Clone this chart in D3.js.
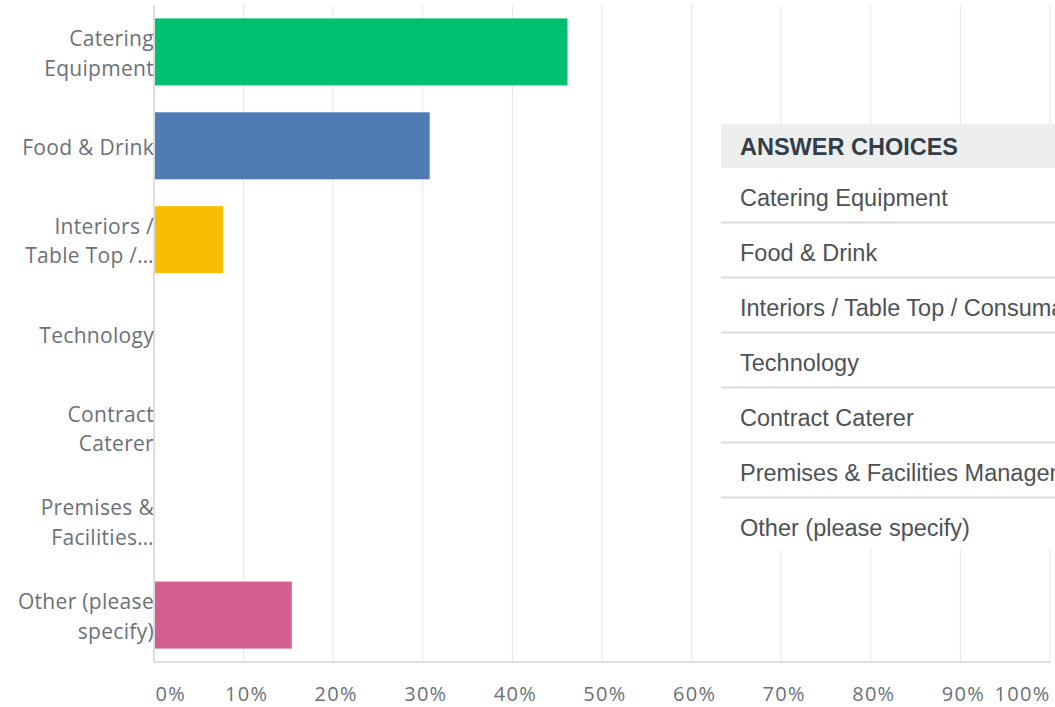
<!DOCTYPE html>
<html>
<head>
<meta charset="utf-8">
<script src="https://cdn.jsdelivr.net/npm/d3@7"></script>
<style>
  html, body { margin: 0; padding: 0; background: #fff; }
  svg { display: block; }
</style>
</head>
<body>
<svg id="chart" width="1055" height="707"></svg>
<script>
// ---- data ----
const categories = ["Catering Equipment", "Food & Drink", "Interiors / Table Top / Consumables",
  "Technology", "Contract Caterer", "Premises & Facilities Management", "Other (please specify)"];
const categoryLabelLines = [
  ["Catering", "Equipment"],
  ["Food & Drink"],
  ["Interiors /", "Table Top /…"],
  ["Technology"],
  ["Contract", "Caterer"],
  ["Premises &", "Facilities…"],
  ["Other (please", "specify)"]
];
const values = [0.4615, 0.3077, 0.0769, 0, 0, 0, 0.1538];
const barColors = ["#00bf6f", "#507cb6", "#f9be00", "#6bc8cd", "#ff8b4f", "#7d5bb1", "#d25f90"];
const tickValues = [0, 0.1, 0.2, 0.3, 0.4, 0.5, 0.6, 0.7, 0.8, 0.9, 1.0];
const tickLabels = ["0%", "10%", "20%", "30%", "40%", "50%", "60%", "70%", "80%", "90%", "100%"];
const tableHeader = "ANSWER CHOICES";
const tableChoices = ["Catering Equipment", "Food & Drink", "Interiors / Table Top / Consumables",
  "Technology", "Contract Caterer", "Premises & Facilities Management", "Other (please specify)"];

(function () {
// ---- layout ----
const svg = d3.select("#chart");
const pLeft = 154, pRight = 1050, pTop = 5, pBottom = 662;
const x = d3.scaleLinear().domain([0, 1]).range([pLeft, pRight]);
const y = d3.scaleBand().domain(categories).range([pTop, pBottom])
  .paddingInner(0.286).paddingOuter(0.143);

const axisFont = "'Open Sans', sans-serif";
const tableFont = "'Liberation Sans', Arial, sans-serif";

// gridlines
svg.append("g").selectAll("line").data(tickValues.slice(1)).join("line")
  .attr("x1", d => x(d)).attr("x2", d => x(d))
  .attr("y1", pTop).attr("y2", pBottom)
  .attr("stroke", "#e6e6e6").attr("stroke-width", 1);

// bars
svg.append("g").selectAll("rect").data(categories).join("rect")
  .attr("x", x(0) + 1)
  .attr("y", d => y(d))
  .attr("width", (d, i) => Math.max(0, x(values[i]) - x(0) - 1))
  .attr("height", y.bandwidth())
  .attr("fill", (d, i) => barColors[i]);

// axis lines
svg.append("line").attr("x1", pLeft).attr("x2", pLeft).attr("y1", pTop).attr("y2", pBottom)
  .attr("stroke", "#d3d3d3").attr("stroke-width", 1.5);
svg.append("line").attr("x1", pLeft).attr("x2", pRight).attr("y1", pBottom).attr("y2", pBottom)
  .attr("stroke", "#d3d3d3").attr("stroke-width", 1.5);

// x axis labels
const xAxis = d3.axisBottom(x).tickValues(tickValues)
  .tickFormat((d, i) => tickLabels[i]).tickSize(0).tickPadding(0);
const gx = svg.append("g").attr("transform", `translate(0, ${pBottom})`).call(xAxis);
gx.select(".domain").remove();
gx.selectAll("text")
  .attr("y", 39).attr("dy", 0)
  .attr("font-family", axisFont).attr("font-size", 20).attr("fill", "#6a7178")
  .attr("letter-spacing", "1.3px")
  .attr("dx", 2.5)
  .attr("text-anchor", "middle");
gx.selectAll(".tick").filter((d, i) => i === 0).select("text")
  .attr("text-anchor", "start").attr("dx", 1);
gx.selectAll(".tick").filter((d, i) => i === tickValues.length - 1).select("text")
  .attr("text-anchor", "end").attr("dx", 0);

// category labels
const lineH = 29.5;
const cat = svg.append("g").selectAll("text").data(categories).join("text")
  .attr("font-family", axisFont).attr("font-size", 21).attr("fill", "#6a7178")
  .attr("letter-spacing", "0.3px")
  .attr("text-anchor", "end");
cat.each(function(d, i) {
  const lines = categoryLabelLines[i];
  const cy = y(d) + y.bandwidth() / 2 + 9;
  const start = cy - (lines.length - 1) * lineH / 2;
  d3.select(this).selectAll("tspan").data(lines).join("tspan")
    .attr("x", pLeft)
    .attr("y", (t, j) => start + j * lineH)
    .text(t => t);
});

// answer choices table
const tblX = 721, tblTop = 124, headH = 44, rowH = 55;
const tbl = svg.append("g");
const tblRows = d3.scaleBand().domain(tableChoices)
  .range([tblTop + headH, tblTop + headH + rowH * tableChoices.length]);
tbl.append("rect").attr("x", tblX).attr("y", tblTop)
  .attr("width", 1055 - tblX).attr("height", headH + rowH * tableChoices.length - 4)
  .attr("fill", "#fff");
tbl.append("rect").attr("x", tblX).attr("y", tblTop)
  .attr("width", 1055 - tblX).attr("height", headH)
  .attr("fill", "#edeeee");
tbl.append("text").attr("x", 740).attr("y", tblTop + 31)
  .attr("font-family", tableFont).attr("font-size", 23.5).attr("font-weight", "bold")
  .attr("fill", "#333e48").text(tableHeader);
tbl.selectAll("line.sep").data(tableChoices.slice(0, -1)).join("line")
  .attr("class", "sep")
  .attr("x1", tblX).attr("x2", 1055)
  .attr("y1", d => tblRows(d) + rowH - 0.5).attr("y2", d => tblRows(d) + rowH - 0.5)
  .attr("stroke", "#dcdcdc").attr("stroke-width", 2);
tbl.selectAll("text.choice").data(tableChoices).join("text")
  .attr("class", "choice")
  .attr("x", 740).attr("y", d => tblRows(d) + 38)
  .attr("font-family", tableFont).attr("font-size", 23.5)
  .attr("fill", "#4d5257").text(d => d);
})();
</script>
</body>
</html>
